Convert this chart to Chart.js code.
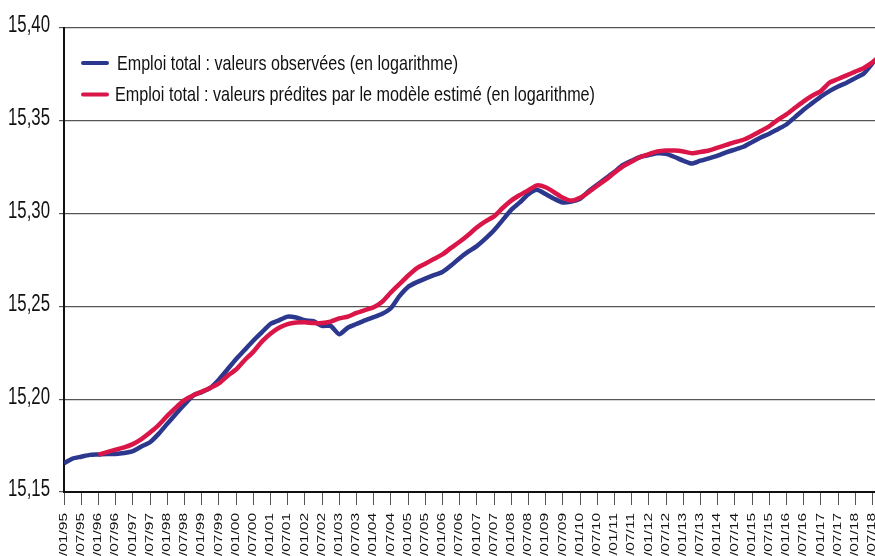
<!DOCTYPE html>
<html>
<head>
<meta charset="utf-8">
<script src="https://cdn.jsdelivr.net/npm/chart.js@4"></script>
<style>
html, body { margin: 0; padding: 0; background: #fff; overflow: hidden; }
</style>
</head>
<body>
<canvas id="myChart" width="875" height="562"></canvas>
<script>
// trimestres de 01/95 a 10/18, une valeur par trimestre
const annees = ['95','96','97','98','99','00','01','02','03','04','05','06','07','08','09','10','11','12','13','14','15','16','17','18']
const moisTicks = ['01','07']

const observes = [
    15.1655, 15.168, 15.169, 15.170, 15.1702, 15.1705, 15.1705, 15.171,
    15.172, 15.1745, 15.1768, 15.1813, 15.1867, 15.192, 15.1971, 15.2019,
    15.2038, 15.2061, 15.2105, 15.216, 15.2215, 15.2265, 15.2315, 15.236,
    15.2405, 15.2425, 15.2445, 15.244, 15.2425, 15.242, 15.2395, 15.2395,
    15.235, 15.2385, 15.2405, 15.2425, 15.2442, 15.246, 15.249, 15.2555,
    15.2605, 15.263, 15.265, 15.2668, 15.2685, 15.272, 15.276, 15.2795,
    15.2825, 15.2865, 15.291, 15.2965, 15.302, 15.306, 15.3105, 15.3128,
    15.3105, 15.308, 15.306, 15.3065, 15.308, 15.312, 15.3155, 15.319,
    15.3225, 15.3262, 15.3285, 15.3305, 15.3315, 15.3325, 15.3322, 15.3305,
    15.3285, 15.327, 15.3285, 15.3298, 15.3312, 15.333, 15.3345, 15.336,
    15.3385, 15.341, 15.343, 15.3455, 15.348, 15.352, 15.356, 15.3595,
    15.363, 15.366, 15.3685, 15.3705, 15.373, 15.3755, 15.381, 15.386
]

const predites = [
    null, null, null, null, 15.170, 15.1715, 15.1728, 15.174,
    15.1758, 15.1785, 15.182, 15.186, 15.191, 15.1955, 15.1995, 15.202,
    15.204, 15.206, 15.2085, 15.2125, 15.216, 15.221, 15.2255, 15.231,
    15.2353, 15.2385, 15.2405, 15.2413, 15.2415, 15.241, 15.241, 15.2418,
    15.2435, 15.2445, 15.2465, 15.248, 15.2495, 15.2525, 15.2575, 15.262,
    15.2665, 15.2705, 15.273, 15.2755, 15.278, 15.2815, 15.2848, 15.2885,
    15.2925, 15.2958, 15.2985, 15.303, 15.307, 15.310, 15.3126, 15.3152,
    15.3142, 15.3115, 15.3085, 15.307, 15.3085, 15.3115, 15.315, 15.3183,
    15.322, 15.3255, 15.328, 15.3305, 15.332, 15.3335, 15.334, 15.334,
    15.3335, 15.3325, 15.3332, 15.334, 15.3355, 15.337, 15.3385, 15.3398,
    15.342, 15.3445, 15.347, 15.3505, 15.3535, 15.357, 15.3605, 15.3635,
    15.366, 15.3705, 15.3725, 15.3745, 15.3765, 15.3785, 15.3815, 15.385
]

const etiquettes = []
annees.forEach(a => moisTicks.forEach(m => etiquettes.push('01/' + m + '/' + a)))

const labelObs = 'Emploi total : valeurs observées (en logarithme)'
const labelPred = 'Emploi total : valeurs prédites par le modèle estimé (en logarithme)'

const bleu = 'rgb(44, 56, 142)'
const rouge = 'rgb(218, 22, 72)'
const police = '"Liberation Sans", Arial, sans-serif'

const formatY = v => v.toFixed(2).replace('.', ',')

// legende dessinee dans la zone du graphique (texte resserre comme l'original)
const legendeInterne = {
    id: 'legendeInterne',
    afterDraw(chart) {
        const ctx = chart.ctx
        const largeurs = [341, 480]
        const depart = [117, 115]
        ctx.save()
        chart.data.datasets.forEach((ds, i) => {
            const y = 63 + i * 31.5
            ctx.strokeStyle = ds.borderColor
            ctx.lineWidth = 4
            ctx.lineCap = 'round'
            ctx.beginPath()
            ctx.moveTo(83, y)
            ctx.lineTo(107, y)
            ctx.stroke()
            ctx.fillStyle = '#111'
            ctx.font = '21px ' + police
            ctx.textBaseline = 'middle'
            ctx.fillText(ds.label, depart[i], y + 1, largeurs[i])
        })
        ctx.restore()
    }
}

// etiquettes des axes en police etroite
const etiquettesAxes = {
    id: 'etiquettesAxes',
    afterDraw(chart) {
        const ctx = chart.ctx
        const sx = chart.scales.x
        const sy = chart.scales.y
        ctx.save()
        ctx.fillStyle = '#111'
        ctx.font = '23px ' + police
        ctx.textAlign = 'right'
        ctx.textBaseline = 'middle'
        sy.ticks.forEach(t => {
            ctx.fillText(formatY(t.value), 50, sy.getPixelForValue(t.value) - 2, 42)
        })
        sx.ticks.forEach(t => {
            const texte = etiquettes[t.value]
            if (!texte) return
            ctx.save()
            ctx.translate(sx.getPixelForValue(t.value), sx.top + 21)
            ctx.rotate(-Math.PI / 2)
            ctx.scale(1.55, 1)
            ctx.font = '10px ' + police
            ctx.textAlign = 'right'
            ctx.textBaseline = 'middle'
            ctx.fillText(texte, 0, 0)
            ctx.restore()
        })
        ctx.restore()
    }
}

const ctx = document.querySelector('#myChart').getContext('2d')

new Chart(ctx, {
    type: 'line',
    data: {
        datasets: [
            {
                label: labelObs,
                data: observes.map((v, i) => ({ x: i / 2, y: v })),
                borderColor: bleu,
                borderWidth: 4.5,
                pointRadius: 0,
                tension: 0.2,
                order: 1
            },
            {
                label: labelPred,
                data: predites.map((v, i) => ({ x: i / 2, y: v })),
                borderColor: rouge,
                borderWidth: 4.5,
                pointRadius: 0,
                tension: 0.2,
                order: 0
            }
        ]
    },
    options: {
        responsive: false,
        animation: false,
        layout: { padding: { top: 28, right: 0, left: 0, bottom: 0 } },
        plugins: {
            legend: { display: false },
            tooltip: { enabled: false }
        },
        scales: {
            x: {
                type: 'linear',
                min: 0,
                max: 47.15,
                afterFit: s => { s.height = 70; s.paddingLeft = 0; s.paddingRight = 0 },
                grid: {
                    drawOnChartArea: false,
                    drawTicks: true,
                    tickLength: 13,
                    color: '#555',
                    lineWidth: 1
                },
                border: { color: '#111', width: 2 },
                ticks: {
                    display: false,
                    stepSize: 1,
                    includeBounds: false,
                    autoSkip: false
                }
            },
            y: {
                min: 15.15,
                max: 15.40,
                afterFit: s => { s.width = 64; s.paddingTop = 0; s.paddingBottom = 0 },
                grid: {
                    color: '#555',
                    lineWidth: 1.2,
                    tickLength: 5
                },
                border: { color: '#111', width: 2 },
                ticks: {
                    display: false,
                    stepSize: 0.05
                }
            }
        }
    },
    plugins: [legendeInterne, etiquettesAxes]
})
</script>
</body>
</html>
